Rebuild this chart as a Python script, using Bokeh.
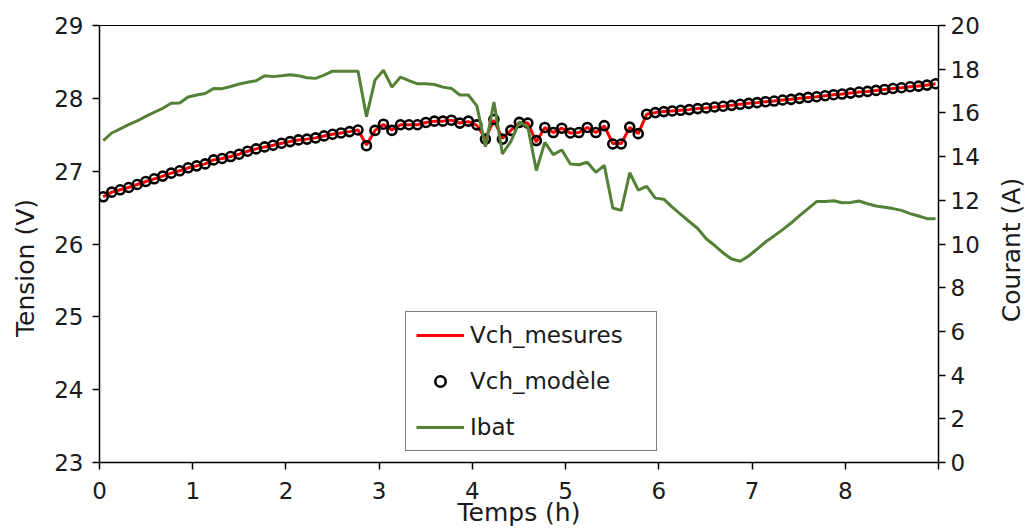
import math
from bokeh.plotting import figure
from bokeh.layouts import row
from bokeh.models import Range1d, LinearAxis, FixedTicker, Legend, LegendItem
from bokeh.core.properties import value
from bokeh.embed import file_html
from bokeh.resources import INLINE

# ---- data ----
temps_h = [0.040, 0.131, 0.222, 0.313, 0.404, 0.496, 0.587, 0.678, 0.769, 0.860,
           0.951, 1.042, 1.133, 1.224, 1.315, 1.407, 1.498, 1.589, 1.680, 1.771,
           1.862, 1.953, 2.044, 2.135, 2.226, 2.318, 2.409, 2.500, 2.591, 2.682,
           2.773, 2.864, 2.955, 3.046, 3.137, 3.229, 3.320, 3.411, 3.502, 3.593,
           3.684, 3.775, 3.866, 3.957, 4.048, 4.140, 4.231, 4.322, 4.413, 4.504,
           4.595, 4.686, 4.777, 4.868, 4.959, 5.051, 5.142, 5.233, 5.324, 5.415,
           5.506, 5.597, 5.688, 5.779, 5.870, 5.962, 6.053, 6.144, 6.235, 6.326,
           6.417, 6.508, 6.599, 6.690, 6.781, 6.873, 6.964, 7.055, 7.146, 7.237,
           7.328, 7.419, 7.510, 7.601, 7.692, 7.784, 7.875, 7.966, 8.057, 8.148,
           8.239, 8.330, 8.421, 8.512, 8.603, 8.695, 8.786, 8.877, 8.968]

vch_modele = [26.648, 26.712, 26.744, 26.776, 26.817, 26.858, 26.895, 26.932, 26.973, 27.005,
              27.046, 27.073, 27.100, 27.155, 27.174, 27.201, 27.233, 27.274, 27.306, 27.333,
              27.356, 27.384, 27.406, 27.429, 27.440, 27.457, 27.484, 27.507, 27.525, 27.543,
              27.565, 27.350, 27.560, 27.645, 27.560, 27.637, 27.637, 27.637, 27.669, 27.687,
              27.687, 27.700, 27.660, 27.687, 27.636, 27.440, 27.710, 27.440, 27.560, 27.670,
              27.660, 27.420, 27.600, 27.530, 27.590, 27.525, 27.530, 27.600, 27.530, 27.625,
              27.373, 27.373, 27.605, 27.515, 27.782, 27.804, 27.818, 27.827, 27.836, 27.845,
              27.859, 27.868, 27.881, 27.891, 27.904, 27.918, 27.931, 27.941, 27.954, 27.963,
              27.977, 27.986, 28.000, 28.013, 28.022, 28.036, 28.050, 28.059, 28.072, 28.086,
              28.095, 28.109, 28.122, 28.136, 28.145, 28.159, 28.168, 28.182, 28.200]

vch_mesures = [26.648, 26.712, 26.744, 26.776, 26.817, 26.858, 26.895, 26.932, 26.973, 27.005,
               27.046, 27.073, 27.100, 27.155, 27.174, 27.201, 27.233, 27.274, 27.306, 27.333,
               27.356, 27.384, 27.406, 27.429, 27.440, 27.457, 27.484, 27.507, 27.525, 27.543,
               27.565, 27.360, 27.560, 27.640, 27.565, 27.637, 27.637, 27.637, 27.669, 27.687,
               27.687, 27.700, 27.660, 27.680, 27.630, 27.450, 27.700, 27.450, 27.560, 27.665,
               27.660, 27.400, 27.600, 27.530, 27.590, 27.525, 27.530, 27.600, 27.530, 27.620,
               27.380, 27.380, 27.600, 27.515, 27.782, 27.804, 27.818, 27.827, 27.836, 27.845,
               27.859, 27.868, 27.881, 27.891, 27.904, 27.918, 27.931, 27.941, 27.954, 27.963,
               27.977, 27.986, 28.000, 28.013, 28.022, 28.036, 28.050, 28.059, 28.072, 28.086,
               28.095, 28.109, 28.122, 28.136, 28.145, 28.159, 28.168, 28.182, 28.200]

ibat = [14.73, 15.08, 15.27, 15.46, 15.63, 15.84, 16.03, 16.21, 16.44, 16.45,
        16.73, 16.82, 16.89, 17.12, 17.11, 17.21, 17.32, 17.40, 17.47, 17.70,
        17.66, 17.70, 17.75, 17.70, 17.61, 17.58, 17.73, 17.91, 17.91, 17.91,
        17.91, 15.83, 17.50, 17.95, 17.18, 17.64, 17.48, 17.33, 17.33, 17.30,
        17.18, 17.12, 16.82, 16.82, 16.32, 14.45, 16.50, 14.12, 14.70, 15.59,
        15.36, 13.36, 14.65, 14.09, 14.30, 13.66, 13.63, 13.74, 13.28, 13.60,
        11.65, 11.54, 13.26, 12.47, 12.64, 12.10, 12.05, 11.69, 11.36, 11.03,
        10.71, 10.24, 9.93, 9.59, 9.31, 9.21, 9.45, 9.77, 10.10, 10.37,
        10.66, 10.96, 11.30, 11.62, 11.94, 11.95, 11.98, 11.89, 11.90, 11.97,
        11.84, 11.74, 11.68, 11.62, 11.54, 11.39, 11.28, 11.16, 11.16]

x_ticks = [0, 1, 2, 3, 4, 5, 6, 7, 8, 9]
x_tick_labels = {9: ""}
tension_ticks = [23, 24, 25, 26, 27, 28, 29]
courant_ticks = [0, 2, 4, 6, 8, 10, 12, 14, 16, 18, 20]

FONT = "DejaVu Sans"
TICK_SIZE = "23px"
LABEL_SIZE = "25px"
TXT = "#1a1a1a"
H = 529
TOP, BOTTOM = 25, 66

# ---- main chart ----
p = figure(width=956, height=H, output_backend="svg", toolbar_location=None,
           x_range=Range1d(0, 9), y_range=Range1d(23, 29),
           min_border_left=59, min_border_right=58, min_border_top=TOP, min_border_bottom=BOTTOM)
p.extra_y_ranges = {"courant": Range1d(0, 20)}
p.background_fill_color = "white"
p.border_fill_color = "white"
p.outline_line_color = "black"
p.outline_line_width = 1
p.grid.visible = False

def style_axis(ax, ticks):
    ax.ticker = FixedTicker(ticks=ticks)
    ax.axis_line_color = "black"
    ax.axis_line_width = 1.5
    ax.major_tick_line_color = "black"
    ax.major_tick_line_width = 1.5
    ax.major_tick_in = 0
    ax.major_tick_out = 7
    ax.minor_tick_line_color = None
    ax.major_label_text_font = FONT
    ax.major_label_text_font_size = TICK_SIZE
    ax.major_label_text_color = TXT
    ax.axis_label_text_font = FONT
    ax.axis_label_text_font_size = LABEL_SIZE
    ax.axis_label_text_font_style = "normal"
    ax.axis_label_text_color = TXT

xax = p.xaxis[0]
style_axis(xax, x_ticks)
xax.major_label_overrides = x_tick_labels
xax.axis_label = "Temps (h)"
xax.major_label_standoff = 12
xax.axis_label_standoff = -4

yax = p.yaxis[0]
style_axis(yax, tension_ticks)
yax.major_label_standoff = 9

rax = LinearAxis(y_range_name="courant")
style_axis(rax, courant_ticks)
rax.major_label_standoff = 5
p.add_layout(rax, "right")

r_mes = p.line(temps_h, vch_mesures, line_color="#ff0000", line_width=3)
r_mod = p.scatter(temps_h, vch_modele, marker="circle", size=9, fill_color=None,
                  line_color="black", line_width=2.6)
r_ib = p.line(temps_h, ibat, y_range_name="courant", line_color="#538135", line_width=3)

legend = Legend(items=[LegendItem(label="Vch_mesures", renderers=[r_mes]),
                       LegendItem(label="Vch_modèle", renderers=[r_mod]),
                       LegendItem(label="Ibat", renderers=[r_ib])],
                location=(306, 11))
legend.border_line_color = "black"
legend.border_line_width = 1
legend.background_fill_alpha = 1
legend.padding = 10
legend.spacing = 20
legend.glyph_width = 48
legend.glyph_height = 26
legend.label_height = 26
legend.label_standoff = 6
legend.label_width = 176
legend.label_text_font = FONT
legend.label_text_font_size = "23px"
legend.label_text_color = TXT
legend.margin = 0
p.add_layout(legend, "center")

# ---- side strips carrying the vertical axis titles (both read bottom-to-top) ----
# In a row, the strips' frames are aligned with the main frame (TOP..H-BOTTOM),
# so the y range is chosen so that one unit = one pixel measured from the page top.
def title_strip(width, text, cx, cy):
    s = figure(width=width, height=H, output_backend="svg", toolbar_location=None,
               x_range=Range1d(0, width), y_range=Range1d(BOTTOM, H - TOP),
               x_axis_location=None, y_axis_location=None,
               min_border_left=0, min_border_right=0,
               min_border_top=TOP, min_border_bottom=BOTTOM)
    s.outline_line_color = None
    s.grid.visible = False
    s.background_fill_color = "white"
    s.border_fill_color = "white"
    s.text(x=[cx], y=[H - cy], text=[text], angle=math.pi / 2,
           text_font=value(FONT), text_font_size=LABEL_SIZE, text_color=TXT,
           text_align="center", text_baseline="middle")
    return s

left_strip = title_strip(40, "Tension (V)", 25, 268)
right_strip = title_strip(29, "Courant (A)", 15, 250)

layout = row(left_strip, p, right_strip, spacing=0)

open("out.html", "w").write(file_html(layout, INLINE))
